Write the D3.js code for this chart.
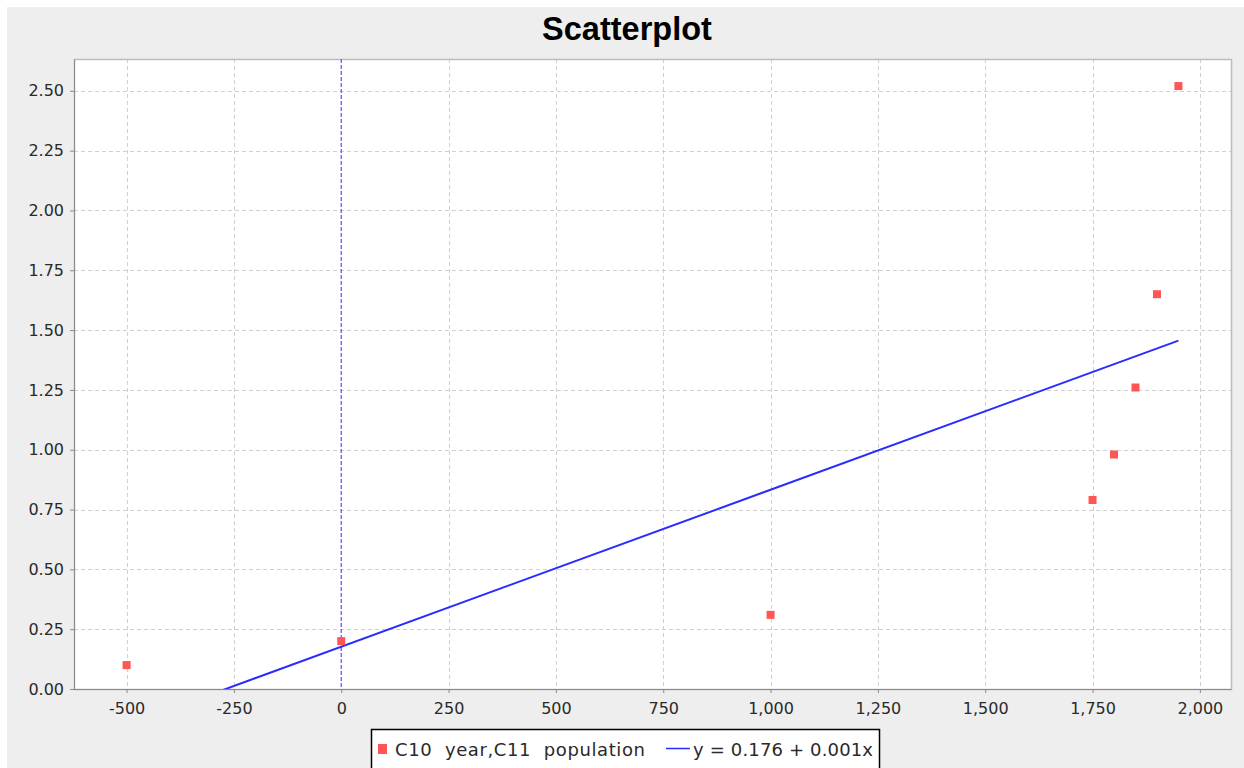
<!DOCTYPE html>
<html>
<head>
<meta charset="utf-8">
<script src="https://cdn.jsdelivr.net/npm/d3@7"></script>
<style>
  html, body { margin: 0; padding: 0; background: #ffffff; }
  svg { display: block; }
</style>
</head>
<body>
<div id="chart"></div>
<script>
// Scatterplot: year vs world population with a linear fit

const years = [-500, 0, 1000, 1750, 1800, 1850, 1900, 1950];
const population = [0.10, 0.20, 0.31, 0.79, 0.98, 1.26, 1.65, 2.52];
const xTicks = [-500, -250, 0, 250, 500, 750, 1000, 1250, 1500, 1750, 2000];
const yTicks = [0, 0.25, 0.5, 0.75, 1, 1.25, 1.5, 1.75, 2, 2.25, 2.5];
const seriesLabel = "C10  year,C11  population";
const fitLabel = "y = 0.176 + 0.001x";

let width = 1244;
let height = 768;
let plotLeft = 74, plotTop = 59, plotRight = 1231, plotBottom = 689;

const fmt = d3.formatLocale({
    decimal: ".", thousands: ",", grouping: [3], currency: ["$", ""], minus: "-"
});

let svg = d3.select("#chart")
    .append("svg")
    .attr("width", width)
    .attr("height", height)
;

svg.append("rect")
    .attr("x", 7).attr("y", 7)
    .attr("width", width - 7).attr("height", height - 7)
    .attr("fill", "#eeeeee");

let x = d3.scaleLinear().domain([-622.5, 2072.5]).range([plotLeft, plotRight]);
let y = d3.scaleLinear().domain([0, 2.633]).range([plotBottom, plotTop]);

svg.append("rect")
    .attr("x", plotLeft).attr("y", plotTop)
    .attr("width", plotRight - plotLeft).attr("height", plotBottom - plotTop)
    .attr("fill", "#ffffff");

svg.append("defs").append("clipPath").attr("id", "plotclip")
    .append("rect")
    .attr("x", plotLeft).attr("y", plotTop)
    .attr("width", plotRight - plotLeft).attr("height", plotBottom - plotTop);

// grid
svg.append("g").selectAll("line")
    .data(xTicks.filter(d => d !== 0))
    .enter().append("line")
    .attr("x1", d => Math.round(x(d)) + 0.5).attr("x2", d => Math.round(x(d)) + 0.5)
    .attr("y1", plotTop).attr("y2", plotBottom)
    .attr("stroke", "#d0d0d0").attr("stroke-dasharray", "4,3");

svg.append("g").selectAll("line")
    .data(yTicks.filter(d => d !== 0))
    .enter().append("line")
    .attr("y1", d => Math.round(y(d)) + 0.5).attr("y2", d => Math.round(y(d)) + 0.5)
    .attr("x1", plotLeft).attr("x2", plotRight)
    .attr("stroke", "#d0d0d0").attr("stroke-dasharray", "4,3");

// plot outline
svg.append("rect")
    .attr("x", plotLeft + 0.5).attr("y", plotTop + 0.5)
    .attr("width", plotRight - plotLeft).attr("height", plotBottom - plotTop)
    .attr("fill", "none").attr("stroke", "#bdbdbd").attr("stroke-width", 1.5);

// axes
let xAxis = svg.append("g")
    .attr("transform", `translate(0,${plotBottom})`)
    .call(d3.axisBottom(x).tickValues(xTicks).tickFormat(fmt.format(",")).tickSizeOuter(0).tickSizeInner(4).tickPadding(4));

let yAxis = svg.append("g")
    .attr("transform", `translate(${plotLeft},0)`)
    .call(d3.axisLeft(y).tickValues(yTicks).tickFormat(fmt.format(".2f")).tickSizeOuter(0).tickSizeInner(4).tickPadding(6));

[xAxis, yAxis].forEach(g => {
    g.select(".domain").attr("stroke", "#8a8a8a");
    g.selectAll(".tick line").attr("stroke", "#8a8a8a");
    g.selectAll("text")
        .attr("font-family", "'DejaVu Sans', sans-serif")
        .attr("font-size", 16)
        .attr("fill", "#2a2a2a");
});
xAxis.selectAll("text").attr("dy", "1.05em");

// zero baselines
svg.append("line")
    .attr("x1", x(0)).attr("x2", x(0))
    .attr("y1", plotTop).attr("y2", plotBottom)
    .attr("stroke", "#5c5cff").attr("stroke-width", 1.3).attr("stroke-dasharray", "4,2");
svg.append("line")
    .attr("x1", plotLeft).attr("x2", plotRight)
    .attr("y1", plotBottom + 0.5).attr("y2", plotBottom + 0.5)
    .attr("stroke", "#8080d0").attr("stroke-dasharray", "3,2");

// least squares fit
const mx = d3.mean(years), my = d3.mean(population);
const slope = d3.sum(years, (d, i) => (d - mx) * (population[i] - my)) /
    d3.sum(years, d => (d - mx) * (d - mx));
const intercept = my - slope * mx;
const fitX = d3.extent(years);

svg.append("path")
    .datum(fitX)
    .attr("clip-path", "url(#plotclip)")
    .attr("d", d3.line().x(d => x(d)).y(d => y(intercept + slope * d)))
    .attr("fill", "none")
    .attr("stroke", "#2b2bff")
    .attr("stroke-width", 2);

// points
svg.append("g").selectAll("rect")
    .data(years)
    .enter().append("rect")
    .attr("x", d => x(d) - 4)
    .attr("y", (d, i) => y(population[i]) - 4)
    .attr("width", 8).attr("height", 8)
    .attr("fill", "#ff5555");

// title
svg.append("text")
    .attr("x", 627).attr("y", 40)
    .attr("text-anchor", "middle")
    .attr("font-family", "'Liberation Sans', Arial, sans-serif")
    .attr("font-weight", "bold")
    .attr("font-size", 32.5)
    .attr("fill", "#000000")
    .text("Scatterplot");

// legend
let legend = svg.append("g");
legend.append("rect")
    .attr("x", 371.5).attr("y", 729.5)
    .attr("width", 508).attr("height", 50)
    .attr("fill", "#ffffff").attr("stroke", "#000000").attr("stroke-width", 1.5);
legend.append("rect")
    .attr("x", 378).attr("y", 744).attr("width", 9).attr("height", 10)
    .attr("fill", "#ff5555");
legend.append("text")
    .attr("x", 395).attr("y", 756)
    .attr("font-family", "'DejaVu Sans', sans-serif")
    .attr("font-size", 18)
    .attr("fill", "#2a2a2a")
    .attr("textLength", 250)
    .attr("lengthAdjust", "spacing")
    .style("white-space", "pre")
    .text(seriesLabel);
legend.append("line")
    .attr("x1", 666).attr("x2", 690)
    .attr("y1", 748.5).attr("y2", 748.5)
    .attr("stroke", "#2b2bff").attr("stroke-width", 1.5);
legend.append("text")
    .attr("x", 693).attr("y", 756)
    .attr("font-family", "'DejaVu Sans', sans-serif")
    .attr("font-size", 18)
    .attr("fill", "#2a2a2a")
    .attr("textLength", 180)
    .attr("lengthAdjust", "spacing")
    .style("white-space", "pre")
    .text(fitLabel);
</script>
</body>
</html>
